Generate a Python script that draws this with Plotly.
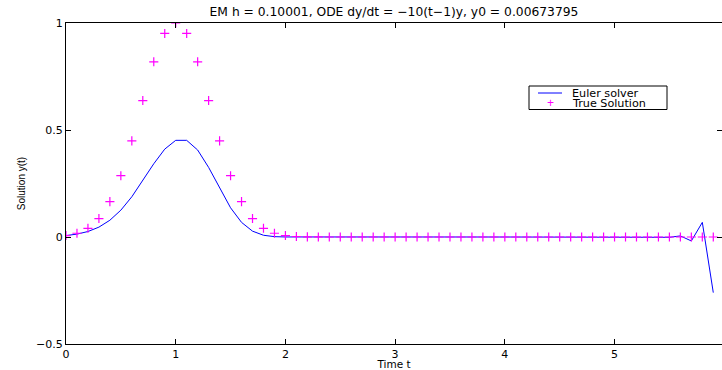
import plotly.graph_objects as go

# time grid (h = 0.10001)
t = [0.0, 0.10001, 0.20002, 0.30003, 0.40004, 0.50005, 0.60006, 0.70007, 0.80008, 0.90009,
     1.0001, 1.10011, 1.20012, 1.30013, 1.40014, 1.50015, 1.60016, 1.70017, 1.80018, 1.90019,
     2.0002, 2.10021, 2.20022, 2.30023, 2.40024, 2.50025, 2.60026, 2.70027, 2.80028, 2.90029,
     3.0003, 3.10031, 3.20032, 3.30033, 3.40034, 3.50035, 3.60036, 3.70037, 3.80038, 3.90039,
     4.0004, 4.10041, 4.20042, 4.30043, 4.40044, 4.50045, 4.60046, 4.70047, 4.80048, 4.90049,
     5.0005, 5.10051, 5.20052, 5.30053, 5.40054, 5.50055, 5.60056, 5.70057, 5.80058, 5.90059]

euler = [0.006738, 0.013476, 0.025604, 0.046088, 0.078349, 0.125359, 0.188038, 0.263254, 0.342230, 0.410676,
         0.451743, 0.451700, 0.406530, 0.325224, 0.227657, 0.136594, 0.068297, 0.027319, 0.008196, 0.001639,
         0.000164, 0.0, 0.0, 0.0, 0.0, 0.0, 0.0, 0.0, 0.0, 0.0,
         0.0, 0.0, 0.0, 0.0, 0.0, 0.0, 0.0, 0.0, 0.0, 0.0,
         0.0, 0.0, 0.0, 0.0, 0.0, 0.0, 0.0, 0.0, 0.0, 0.0,
         0.0, 0.00001, 0.00004, -0.00013, 0.00042, -0.0014, 0.0051, -0.0185, 0.0684, -0.26]

true_sol = [0.00674, 0.01742, 0.04076, 0.08629, 0.16530, 0.28650, 0.44933, 0.63763, 0.81873, 0.95123,
            1.0, 0.95123, 0.81873, 0.63763, 0.44933, 0.28650, 0.16530, 0.08629, 0.04076, 0.01742,
            0.00674, 0.00236, 0.00075, 0.00021, 0.00005, 0.0, 0.0, 0.0, 0.0, 0.0,
            0.0, 0.0, 0.0, 0.0, 0.0, 0.0, 0.0, 0.0, 0.0, 0.0,
            0.0, 0.0, 0.0, 0.0, 0.0, 0.0, 0.0, 0.0, 0.0, 0.0,
            0.0, 0.0, 0.0, 0.0, 0.0, 0.0, 0.0, 0.0, 0.0, 0.0]

x_ticks = [0, 1, 2, 3, 4, 5]
y_ticks = [-0.5, 0, 0.5, 1]
y_tick_text = ["\u22120.5", "0", "0.5", "1"]
series_names = ["Euler solver", "True Solution"]

FONT = "DejaVu Sans, Liberation Sans, Arial, sans-serif"
BLUE = "#0000ff"
MAGENTA = "#ff00ff"

fig = go.Figure()
fig.add_trace(go.Scatter(x=t, y=euler, mode="lines", name=series_names[0],
                         line=dict(color=BLUE, width=1), showlegend=False))
fig.add_trace(go.Scatter(x=t, y=true_sol, mode="markers", name=series_names[1],
                         marker=dict(symbol="cross-thin-open", size=6.5, color=MAGENTA,
                                     line=dict(color=MAGENTA, width=1.2)),
                         showlegend=False))

fig.update_layout(
    width=722, height=370,
    margin=dict(l=66, r=0, t=23, b=26, pad=0, autoexpand=False),
    paper_bgcolor="white", plot_bgcolor="white",
    font=dict(family=FONT, size=11, color="black"),
    title=dict(text="EM h = 0.10001, ODE dy/dt = \u221210(t\u22121)y, y0 = 0.00673795",
               x=(66 + 722) / 2 / 722, xanchor="center", y=1 - 12 / 370, yanchor="middle",
               font=dict(family=FONT, size=12.3, color="black")),
    showlegend=False,
)

# legend drawn in paper coordinates (plot area 66..722 x 23..344 px)
def px(xp):
    return (xp - 66) / 656

def py(yp):
    return (344 - yp) / 321

fig.add_shape(type="rect", xref="paper", yref="paper",
              x0=px(529), x1=px(667), y0=py(109.5), y1=py(86),
              line=dict(color="black", width=1), fillcolor="white", layer="above")
fig.add_shape(type="line", xref="paper", yref="paper",
              x0=px(538), x1=px(562), y0=py(93), y1=py(93),
              line=dict(color=BLUE, width=1), layer="above")
fig.add_annotation(xref="paper", yref="paper", x=px(550), y=py(103.5), text="+",
                   showarrow=False, xanchor="center", yanchor="middle",
                   font=dict(family="Liberation Sans, Arial, sans-serif", size=12, color=MAGENTA))
fig.add_annotation(xref="paper", yref="paper", x=px(570), y=py(93.5), text=series_names[0],
                   showarrow=False, xanchor="left", yanchor="middle",
                   font=dict(family=FONT, size=11.2, color="black"))
fig.add_annotation(xref="paper", yref="paper", x=px(570), y=py(103.5), text=series_names[1],
                   showarrow=False, xanchor="left", yanchor="middle",
                   font=dict(family=FONT, size=11.2, color="black"))

fig.update_xaxes(range=[0, 5.98], tickvals=x_ticks, ticktext=[str(v) for v in x_ticks],
                 ticks="inside", ticklen=5, tickcolor="black", showline=True,
                 linecolor="black", linewidth=1, mirror="allticks", showgrid=False,
                 zeroline=False, tickfont=dict(size=11), automargin=False,
                 title=dict(text="Time t", standoff=0, font=dict(size=10.5)))
fig.update_yaxes(range=[-0.5, 1], tickvals=y_ticks, ticktext=y_tick_text,
                 ticks="inside", ticklen=5, tickcolor="black", showline=True,
                 linecolor="black", linewidth=1, mirror="ticks", showgrid=False,
                 zeroline=False, tickfont=dict(size=11), automargin=False,
                 title=dict(text="Solution y(t)", standoff=8,
                            font=dict(family="Liberation Sans Narrow, Liberation Sans, Arial, sans-serif",
                                      size=10)))

fig.write_html("out.html", config={"displayModeBar": False},
               post_script="document.body.style.margin='0';")
